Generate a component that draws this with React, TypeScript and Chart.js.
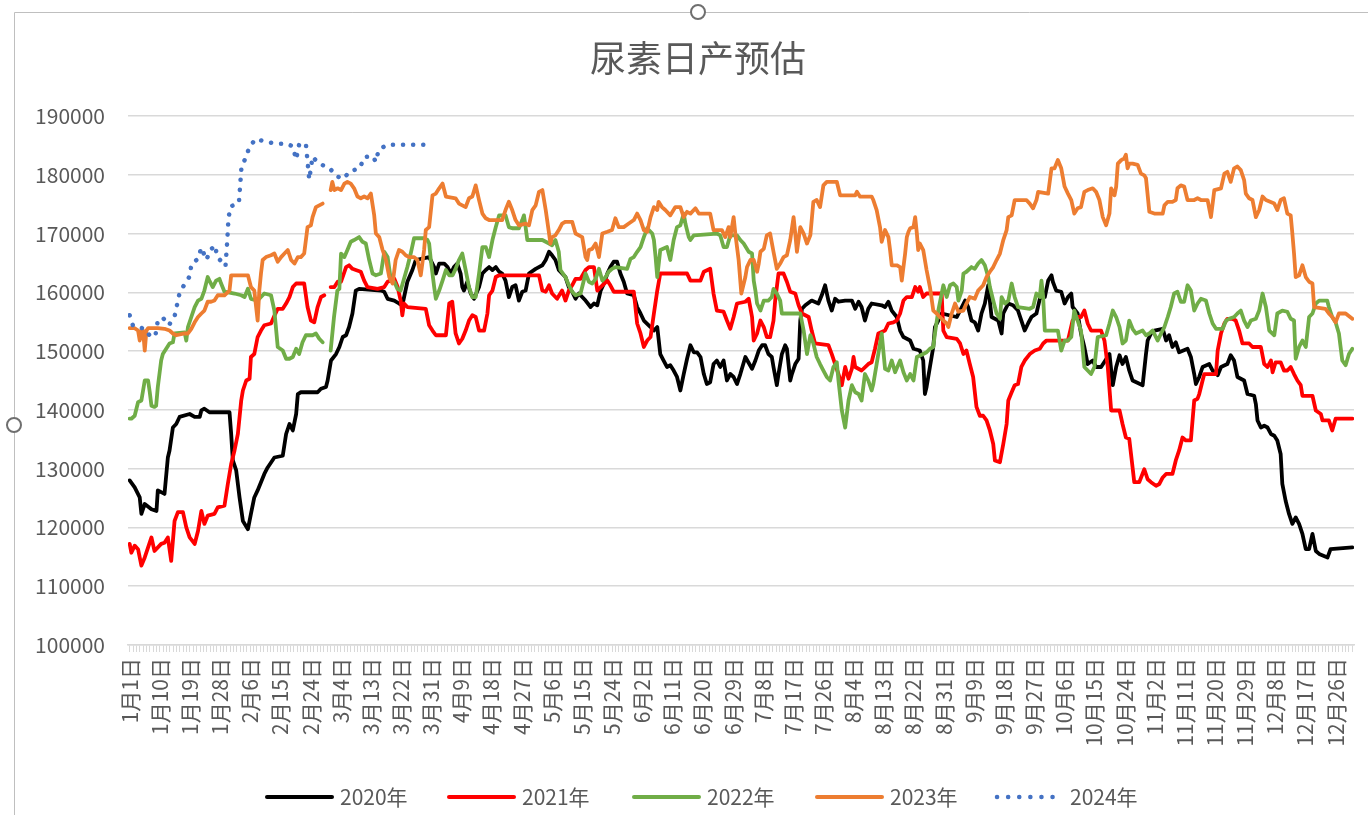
import { useEffect, useRef } from 'react';
import { Chart, registerables } from 'chart.js';

Chart.register(...registerables);

const TITLE = '尿素日产预估';
const FONT = '"Noto Sans CJK SC", "Noto Sans", sans-serif';
const TEXT = '#595959';

// x tick labels, one every 9 days on a leap-year calendar (index 0 = 1月1日)
const tickLabels = [
  '1月1日', '1月10日', '1月19日', '1月28日', '2月6日', '2月15日', '2月24日', '3月4日', '3月13日', '3月22日', '3月31日',
  '4月9日', '4月18日', '4月27日', '5月6日', '5月15日', '5月24日', '6月2日', '6月11日', '6月20日', '6月29日',
  '7月8日', '7月17日', '7月26日', '8月4日', '8月13日', '8月22日', '8月31日', '9月9日', '9月18日', '9月27日',
  '10月6日', '10月15日', '10月24日', '11月2日', '11月11日', '11月20日', '11月29日', '12月8日', '12月17日', '12月26日',
];
const seriesNames = ['2020年', '2021年', '2022年', '2023年', '2024年'];
const seriesColors = ['#000000', '#FF0000', '#70AD47', '#ED7D31', '#4472C4'];

// [day index, daily output]; day 59 = 2月29日 (empty in non-leap years)
const s2020: [number, number | null][] = [
  [0, 128000], [1.5, 126800], [3, 125100], [3.5, 122300], [4.5, 124000], [6.5, 123100], [8, 122800], [8.4, 126300], [10.4, 125700],
  [11.4, 131900], [11.9, 133100], [12.9, 137000], [13.9, 137600], [14.9, 138800], [17.9, 139300], [19.4, 138800], [20.9, 138800],
  [21.4, 139900], [22.3, 140200], [23.8, 139600], [29.8, 139600], [30.3, 135900], [30.8, 131400], [31.8, 129700], [32.8, 125100],
  [33.8, 121100], [35.3, 119700], [36.2, 122300], [37.2, 125100], [38.2, 126300], [40.2, 129100], [41.2, 130200], [43.2, 131900],
  [45.7, 132200], [46.7, 135900], [47.7, 137600], [48.7, 136500], [49.7, 139300], [50.2, 142700], [51.1, 143000], [56.1, 143000],
  [57.1, 143600], [58.6, 143900], [59.1, 145000], [60.1, 148400], [61.6, 149500], [62.6, 150700], [63.6, 152400], [64.6, 152700],
  [65.5, 154100], [66.5, 156400], [67.5, 160300], [68.5, 160600], [75, 160300], [76, 160100], [77, 158900], [79, 158600],
  [80.4, 158100], [81.4, 157800], [82.9, 161800], [84.4, 163800], [85.4, 165500], [89.4, 166000], [90.9, 164300], [91.4, 163200],
  [92.4, 164900], [93.9, 164900], [94.9, 164300], [95.9, 163200], [96.8, 164300], [97.8, 164900], [98.8, 163200], [99.3, 160900],
  [99.8, 160300], [100.8, 161800], [101.8, 159800], [102.8, 158900], [104.3, 160900], [105.3, 163200], [106.3, 163800],
  [107.3, 164300], [108.3, 163800], [109.3, 164300], [110.3, 163500], [111.2, 163200], [112.2, 162000], [113.2, 159200],
  [114.2, 160900], [115.2, 161200], [116.2, 158600], [117.2, 160100], [118.2, 160300], [119.2, 163200], [121.2, 164000],
  [123.2, 164600], [124.2, 165500], [125.2, 166900], [126.1, 166300], [127.1, 165500], [128.1, 163800], [129.1, 163200],
  [130.1, 162600], [131.1, 160900], [132.1, 160100], [133.1, 158900], [134.1, 159800], [135.1, 159200], [136.1, 158600],
  [137.6, 157500], [138.6, 158100], [139.6, 157800], [140.6, 160300], [141.6, 161500], [142.6, 163200], [143.5, 164300],
  [144.5, 165200], [145.5, 165200], [146.5, 163200], [147.5, 161800], [148.5, 159800], [150.5, 159500], [151.5, 157500],
  [152.5, 156400], [153.5, 155200], [155.5, 154100], [156.5, 153500], [157.5, 154100], [158.4, 149500], [159.4, 148400],
  [160.4, 147300], [161.4, 147600], [162.4, 146700], [163.4, 145600], [164.4, 143300], [165.4, 146100], [166.4, 148700],
  [167.4, 151000], [168.4, 149800], [169.4, 149800], [170.4, 149000], [171.4, 146100], [172.3, 144400], [173.3, 144700],
  [174.3, 147800], [175.3, 148400], [176.3, 147300], [177.3, 148400], [178.3, 145000], [179.3, 146100], [180.3, 145600],
  [181.3, 144400], [182.3, 146100], [183.8, 149000], [185.8, 147000], [186.8, 148400], [187.8, 150100], [188.8, 151000],
  [189.7, 151000], [190.7, 149500], [191.7, 149000], [192.2, 147300], [193.2, 144200], [193.7, 146100], [194.7, 149500],
  [195.7, 151000], [196.2, 150400], [197.2, 145000], [197.7, 146100], [198.7, 147800], [199.7, 148700], [200.2, 155200],
  [200.7, 157200], [201.7, 157800], [203.6, 158600], [205.6, 158100], [206.6, 159500], [207.6, 161200], [208.6, 158600],
  [209.6, 156900], [210.6, 158900], [211.6, 158400], [213.6, 158600], [215.6, 158600], [216.6, 157200], [217.6, 158400],
  [218.5, 157500], [219.5, 155200], [220.5, 157200], [221.5, 158100], [224.5, 157800], [225.5, 157500], [226.5, 158400],
  [227.5, 156900], [229, 155800], [230, 153500], [231, 152400], [233, 151800], [234, 150400], [235.9, 150100], [236.9, 148400],
  [237.4, 142700], [237.9, 143900], [238.9, 147300], [239.9, 150700], [240.4, 154100], [241.4, 155200], [242.4, 156400],
  [246.9, 155800], [247.9, 156900], [249.4, 158600], [250.3, 157500], [251.3, 155200], [252.3, 154900], [253.3, 153500],
  [254.3, 156400], [255.3, 158100], [256.3, 161200], [257.3, 155800], [259.3, 155200], [260.3, 153000], [260.8, 156400],
  [262.3, 158100], [263.7, 157800], [265.2, 156900], [266.2, 155200], [267.2, 153500], [268.2, 154700], [269.2, 155800],
  [270.7, 156400], [271.7, 158900], [273.2, 159200], [274.2, 162000], [275.2, 162900], [275.6, 161800], [276.6, 160300],
  [278.1, 160100], [279.1, 158100], [280.1, 159200], [281.1, 159800], [281.5, 157500], [283, 156400], [284, 153000],
  [285, 150700], [286, 147800], [287.5, 148400], [288.5, 147300], [290, 147300], [292.5, 149500], [293.5, 144200],
  [294.5, 147300], [295.5, 149300], [296.4, 147800], [297.4, 149000], [298.4, 146700], [299.4, 145000], [302.4, 144200],
  [303.4, 149500], [303.9, 151800], [304.9, 153000], [305.9, 153500], [308.4, 153800], [309.4, 151800], [310.3, 152700],
  [311.3, 150700], [312.3, 151500], [313.3, 149800], [315.8, 150400], [316.8, 149000], [317.8, 146100], [318.3, 144400],
  [319.3, 145600], [320.3, 147300], [322.3, 147800], [323.3, 146700], [324.8, 145900], [325.8, 147300], [327.7, 147800],
  [328.7, 149300], [329.7, 148400], [330.7, 145600], [332.7, 145000], [333.7, 142700], [335.7, 142400], [336.2, 141000],
  [336.7, 138200], [337.7, 137000], [338.7, 137300], [339.7, 137000], [340.7, 135900], [341.7, 135600], [342.6, 134800],
  [343.6, 132500], [344.1, 127400], [345.1, 124500], [346.1, 122300], [347.1, 120600], [348.1, 121700], [349.1, 120600],
  [350.1, 118900], [351.1, 116300], [352.1, 116300], [353.1, 118900], [354.1, 116000], [355.1, 115500], [357.6, 114900],
  [358.5, 116300], [365, 116600],
];

const s2021: [number, number | null][] = [
  [0, 117200], [0.5, 115700], [1.5, 116900], [2.5, 116300], [3.5, 113500], [4.5, 114900], [5.5, 116600], [6.5, 118300],
  [7.4, 116000], [9.4, 117200], [10.4, 117400], [11.4, 118300], [12.4, 114300], [13.4, 121100], [14.4, 122600], [15.9, 122600],
  [16.9, 120000], [17.9, 118300], [19.4, 117200], [20.4, 119400], [21.4, 122800], [22.3, 120600], [23.3, 122000], [25.3, 122300],
  [26.3, 123400], [28.3, 123700], [29.3, 127400], [30.3, 130800], [31.3, 133100], [32.3, 135900], [33.3, 141600], [33.8, 143300],
  [34.8, 145000], [35.8, 145300], [36.2, 149000], [37.2, 149500], [38.2, 152400], [39.2, 153500], [40.2, 154400], [42.2, 154700],
  [43.2, 156000], [44.2, 157200], [45.7, 157200], [46.7, 158100], [47.7, 159200], [48.7, 160900], [49.7, 161500], [52.1, 161500],
  [53.1, 157500], [54.1, 155200], [55.1, 154900], [56.1, 157500], [57.1, 159200], [58.1, 159500], [59, null], [60, 160900],
  [61.1, 160900], [62.1, 161800], [63.1, 161800], [64.6, 164300], [65.5, 164600], [66.5, 164000], [67.5, 163800], [69, 163500],
  [70, 162000], [71, 160900], [74, 160600], [76, 160900], [77, 161800], [79, 162300], [80, 160900], [80.9, 158600], [81.4, 156100],
  [81.9, 158100], [82.9, 157500], [88.4, 157200], [89.4, 154400], [90.4, 153500], [91.4, 152700], [94.4, 152700], [95.4, 158100],
  [96.3, 158400], [97.3, 153000], [98.3, 151300], [99.3, 152100], [100.3, 153500], [101.3, 155200], [102.3, 156100],
  [103.3, 155800], [104.3, 153500], [105.8, 153500], [106.8, 156400], [107.3, 159500], [108.3, 160300], [109.3, 162600],
  [110.3, 162900], [122.2, 162900], [123.2, 160300], [124.2, 160100], [125.2, 161200], [126.1, 159800], [127.6, 158900],
  [129.1, 160300], [130.1, 158600], [131.1, 160300], [132.1, 161200], [133.1, 162300], [134.6, 162300], [136.1, 163800],
  [137.1, 164300], [138.6, 164300], [139.6, 160300], [140.6, 160900], [142.6, 162000], [143.5, 161200], [144.5, 160100],
  [150.5, 160100], [151.5, 154700], [152.5, 153000], [153.5, 150700], [154.5, 151800], [155.5, 152400], [156.5, 156400],
  [157.5, 160300], [158.4, 163200], [166.4, 163200], [167.4, 162000], [170.4, 162000], [171.4, 163500], [173.3, 164000],
  [174.3, 159800], [175.3, 156900], [177.3, 156700], [178.3, 155200], [179.3, 153800], [180.3, 155800], [181.3, 158100],
  [183.8, 158400], [184.8, 158900], [185.8, 155800], [186.3, 151800], [187.3, 153000], [188.3, 155200], [189.3, 154100],
  [190.2, 152400], [191.2, 152400], [192.2, 155200], [192.7, 158600], [193.7, 163200], [195.2, 163200], [196.2, 161800],
  [197.2, 160100], [198.7, 159800], [199.7, 157800], [200.7, 156400], [202.7, 155800], [203.6, 153500], [204.6, 151300],
  [208.6, 151000], [209.6, 149500], [210.6, 147800], [211.6, 146100], [212.6, 144200], [213.6, 147300], [214.6, 145300],
  [215.6, 147000], [216.1, 149000], [216.6, 147300], [218.5, 146700], [220.5, 147800], [221.5, 148100], [222.5, 150400],
  [223.5, 153000], [225.5, 153500], [226.5, 154700], [228, 154900], [229, 155200], [230, 156400], [231, 158600], [232, 159200],
  [233.5, 159200], [234.5, 160900], [235.4, 160100], [235.9, 160900], [236.9, 159200], [237.9, 159800], [242.4, 159800],
  [242.9, 153500], [243.9, 152400], [246.9, 152100], [247.9, 151300], [248.9, 149500], [249.8, 150100], [250.8, 147800],
  [251.8, 145600], [252.8, 140500], [253.8, 139000], [254.8, 139000], [255.8, 138200], [256.8, 136500], [257.8, 134200],
  [258.3, 131400], [259.8, 131100], [260.8, 134200], [261.8, 137600], [262.3, 141600], [263.3, 143000], [264.2, 144200],
  [265.2, 144400], [266.2, 147300], [267.2, 148400], [268.7, 149500], [270.2, 150100], [271.7, 150400], [272.7, 151300],
  [273.7, 151800], [280.1, 151800], [280.6, 153000], [281.5, 155200], [282.5, 155800], [284, 155800], [285, 156900],
  [286, 154700], [287, 153500], [290, 153500], [291, 151800], [292, 147300], [293, 139900], [295.5, 139900], [296.4, 137600],
  [297.4, 135300], [298.4, 135100], [299.4, 130200], [299.9, 127700], [301.4, 127700], [302.9, 129900], [303.9, 128200],
  [304.9, 127700], [306.4, 127100], [307.4, 127400], [308.4, 128500], [309.4, 129100], [311.3, 129100], [312.3, 131400],
  [313.3, 133100], [314.3, 135300], [315.3, 134800], [316.8, 134800], [317.8, 141600], [318.8, 141900], [319.3, 142700],
  [320.3, 145000], [320.8, 146100], [324.3, 146100], [324.8, 150100], [325.8, 153000], [326.8, 154700], [327.7, 155500],
  [329.2, 155500], [330.2, 155200], [331.2, 153500], [332.2, 151300], [334.2, 151300], [335.2, 150700], [337.7, 150700],
  [338.7, 147800], [339.7, 147300], [340.7, 148400], [341.2, 146400], [342.1, 148100], [343.6, 148100], [344.6, 146700],
  [345.6, 146700], [346.6, 147300], [347.6, 146100], [348.6, 145000], [349.6, 144200], [350.1, 142400], [353.1, 142400],
  [354.1, 139900], [355.6, 139300], [356.1, 138200], [358, 138200], [359, 136500], [360, 138500], [365, 138500],
];

const s2022: [number, number | null][] = [
  [0, 138500], [0.5, 138500], [1.5, 139000], [2.5, 141300], [3.5, 141600], [4.5, 145000], [5.5, 145000], [6, 143000],
  [6.5, 140700], [7.4, 140500], [7.9, 140700], [8.4, 143900], [9.4, 148400], [9.9, 149500], [10.9, 150400], [11.9, 151300],
  [12.9, 151500], [13.4, 153000], [16.4, 153200], [16.9, 151800], [17.4, 154100], [18.4, 155800], [19.4, 157500], [20.4, 158600],
  [21.4, 158900], [22.3, 160300], [23.3, 162600], [23.8, 162000], [24.8, 160900], [25.8, 162000], [26.8, 162300], [27.3, 161500],
  [28.3, 160100], [31.3, 159800], [33.3, 159500], [34.3, 159200], [35.3, 160600], [36.2, 158900], [38.2, 158600], [39.2, 159200],
  [40.2, 159800], [42.2, 159500], [43.2, 156900], [44.2, 150700], [45.7, 150100], [46.7, 148700], [47.7, 148700], [48.7, 149000],
  [49.7, 150400], [50.6, 149500], [51.6, 151500], [52.6, 152700], [54.6, 152700], [55.6, 153000], [56.6, 152100], [57.6, 151500],
  [59, null], [60, 150100], [61, 155800], [62, 160300], [62.6, 160600], [63.1, 166600], [64.1, 166000], [65, 167200],
  [66, 168600], [67, 168900], [68.5, 169400], [69.5, 168600], [70.5, 168300], [71.5, 165500], [72.5, 163200], [73.5, 162900],
  [75, 163200], [76, 166900], [77, 166000], [78, 162000], [79, 161800], [79.9, 160600], [80.9, 160300], [81.9, 162300],
  [82.9, 164300], [83.9, 166600], [84.9, 169200], [87.9, 169200], [88.9, 168900], [89.4, 168300], [89.9, 165500], [90.9, 160900],
  [91.4, 158900], [92.4, 160300], [93.4, 162000], [94.4, 163800], [95.4, 162900], [96.4, 162900], [97.3, 164000], [98.3, 165500],
  [99.3, 166600], [100.3, 163800], [101.3, 160900], [102.3, 159200], [103.3, 159200], [104.3, 163200], [105.3, 167700],
  [106.3, 167700], [107.3, 166000], [108.3, 168900], [109.3, 171100], [110.3, 173100], [112.2, 173100], [113.2, 171100],
  [114.2, 170900], [116.2, 170900], [117.2, 172300], [117.7, 173100], [118.2, 171100], [118.7, 168900], [123.2, 168900],
  [125.2, 168300], [126.1, 168000], [127.1, 168900], [128.1, 166900], [128.6, 163800], [130.1, 162600], [131.1, 161200],
  [132.1, 160100], [133.1, 159500], [134.6, 159800], [136.1, 163200], [137.1, 161800], [138.1, 161500], [139.1, 162300],
  [140.1, 164000], [141.1, 162000], [142.1, 162600], [143, 163500], [144, 164000], [145, 164300], [148.5, 164000],
  [149.5, 165700], [150.5, 166000], [151.5, 166900], [152.5, 167700], [153.5, 169400], [154.5, 170900], [156, 170000],
  [156.5, 168900], [157, 166000], [157.5, 162600], [158.4, 167200], [160.4, 167700], [161.4, 165500], [162.4, 168900],
  [163.4, 171100], [164.4, 171400], [165.4, 173400], [165.9, 171700], [166.9, 169400], [167.4, 168900], [168.4, 169700],
  [175.3, 170000], [176.3, 169700], [177.3, 167700], [178.3, 167700], [179.3, 169700], [181.3, 169700], [182.3, 168900],
  [183.3, 168300], [184.8, 166900], [185.8, 166600], [186.3, 162000], [186.8, 160300], [187.3, 158100], [188.3, 156900],
  [189.3, 158600], [190.7, 158600], [191.7, 159200], [192.2, 160600], [193.2, 159800], [194.2, 158600], [194.7, 156400],
  [200.2, 156400], [201.2, 153500], [202.2, 149500], [203.2, 152700], [204.1, 151300], [205.1, 149000], [206.1, 147800],
  [207.1, 146700], [208.1, 145600], [209.1, 145000], [210.1, 147300], [211.1, 148100], [211.6, 145000], [212.6, 139900],
  [213.6, 137000], [214.6, 141600], [215.6, 144200], [216.6, 143000], [217.6, 142700], [218.5, 141600], [219.5, 146100],
  [220.5, 145000], [221.5, 143300], [222, 144400], [223, 147800], [224.5, 153000], [225.5, 147000], [226.5, 146700],
  [227.5, 148400], [228.5, 146400], [230, 148400], [231, 146400], [232, 145000], [233, 146100], [234, 145000], [235, 149000],
  [236.9, 149500], [237.9, 149800], [238.9, 150400], [239.9, 150700], [240.4, 153000], [241.4, 156900], [242.4, 159800],
  [242.9, 161200], [243.9, 159200], [244.9, 161200], [245.9, 161500], [246.9, 160900], [247.4, 158600], [248.4, 160300],
  [248.9, 163200], [249.8, 163500], [251.3, 164300], [252.3, 164000], [253.3, 164900], [254.3, 165500], [255.3, 164600],
  [256.3, 162600], [256.8, 160900], [257.8, 158600], [258.8, 156400], [259.8, 155500], [260.3, 159200], [261.3, 158100],
  [262.3, 158600], [263.3, 161500], [264.2, 159200], [265.2, 157500], [268.7, 157200], [269.7, 157500], [270.7, 159800],
  [271.7, 159200], [272.2, 162000], [272.7, 159200], [273.2, 153500], [277.1, 153500], [278.1, 150100], [279.1, 151800],
  [280.1, 151800], [281.1, 152400], [282, 156900], [283, 155200], [284, 153500], [285, 147300], [287, 146100], [288, 147300],
  [289, 152400], [291.5, 152700], [292.5, 154700], [293.5, 156900], [294.5, 155800], [295.5, 154100], [296.4, 151300],
  [297.4, 151800], [298.4, 155200], [299.4, 153800], [300.4, 153000], [302.4, 153500], [303.4, 152700], [304.4, 153000],
  [305.4, 153500], [306.9, 151800], [307.9, 153000], [308.9, 154100], [309.9, 155800], [310.8, 157500], [311.8, 159800],
  [312.8, 160100], [313.8, 158400], [314.8, 158400], [315.8, 161200], [316.8, 160300], [317.8, 156900], [318.8, 158100],
  [319.8, 158900], [321.3, 158600], [322.3, 156400], [323.3, 154700], [324.3, 153800], [326.3, 153800], [327.3, 155200],
  [328.2, 155500], [329.7, 155800], [330.7, 156400], [331.7, 156900], [332.7, 155200], [333.7, 154100], [334.7, 155200],
  [336.2, 155500], [337.2, 156900], [338.2, 159800], [339.2, 157500], [340.2, 153500], [341.7, 152700], [342.6, 156400],
  [344.1, 156900], [345.6, 156700], [346.6, 155500], [347.6, 155200], [348.1, 148700], [349.1, 150700], [350.1, 151800],
  [351.1, 150700], [352.1, 155800], [353.1, 156400], [354.1, 158100], [355.1, 158600], [357.5, 158600], [358, 157500],
  [359, 155800], [360, 154900], [361, 153000], [362, 148400], [363, 147600], [364, 149500], [365, 150400],
];

const s2023: [number, number | null][] = [
  [0, 153900], [1.5, 153900], [2.5, 153500], [3, 151800], [3.5, 153500], [4, 153500], [4.5, 150100], [5, 153500], [5.5, 153900],
  [8.4, 153900], [10.4, 153800], [11.9, 153500], [12.9, 153000], [13.9, 152700], [16.4, 153000], [17.4, 153000], [18.4, 153800],
  [19.4, 154900], [20.4, 155800], [21.4, 156400], [22.3, 156900], [23.3, 158400], [24.3, 158400], [25.3, 158600], [26.3, 159500],
  [28.3, 159500], [29.8, 160300], [30.3, 162900], [35.3, 162900], [36.2, 160900], [37.2, 160300], [38.2, 155200], [38.7, 160300],
  [39.2, 163200], [39.7, 165500], [40.7, 166000], [42.2, 166300], [43.2, 166600], [44.2, 165200], [45.2, 166000], [46.2, 166600],
  [47.2, 167200], [48.2, 165500], [49.2, 164900], [50.2, 166000], [51.1, 166000], [52.1, 166600], [53.1, 171100], [54.1, 171400],
  [54.6, 172800], [55.6, 174500], [57.6, 175100], [59, null], [60, 177400], [60.5, 178800], [61.1, 177400], [62.1, 177700],
  [63.1, 177400], [64.1, 178500], [65, 178800], [66, 178500], [67, 177700], [68, 176300], [69, 176000], [70, 176300],
  [71, 176000], [72, 176800], [73, 173100], [73.5, 170000], [74.5, 169400], [75.5, 167200], [76.5, 165500], [77.5, 162600],
  [78.5, 161500], [79.4, 165500], [80.4, 167200], [81.4, 166900], [82.4, 166300], [83.4, 166000], [84.9, 166000],
  [85.9, 165500], [86.9, 162900], [87.9, 167200], [88.4, 170600], [89.4, 171100], [90.4, 176500], [91.4, 176800],
  [92.4, 177700], [93.4, 178500], [94.4, 176300], [97.3, 176000], [98.3, 175100], [100.3, 174500], [101.3, 176000],
  [102.3, 176300], [103.3, 178200], [104.3, 175700], [105.3, 173400], [106.3, 172600], [107.3, 172300], [111.2, 172300],
  [112.2, 174000], [113.2, 175400], [114.2, 174000], [115.2, 172300], [116.2, 171400], [118.2, 171700], [119.2, 171400],
  [120.2, 174000], [121.2, 174800], [122.2, 177100], [123.2, 177400], [124.2, 174000], [125.2, 170000], [125.6, 168300],
  [126.1, 169400], [127.1, 169700], [128.1, 170600], [129.1, 171700], [130.1, 172000], [132.1, 172000], [133.1, 170000],
  [135.1, 169400], [136.1, 166000], [136.6, 165500], [137.1, 167200], [138.1, 167400], [139.1, 168300], [140.1, 166000],
  [141.1, 170000], [142.6, 170300], [144, 170600], [145, 172600], [146, 171100], [147.5, 171100], [149, 171700], [150.5, 172300],
  [151.5, 173400], [152.5, 172300], [153.5, 170600], [154.5, 170300], [155.5, 172800], [156.5, 174500], [157.5, 174000],
  [157.9, 175400], [158.9, 174500], [159.9, 174000], [161.4, 173100], [162.9, 174500], [164.4, 174500], [165.4, 172800],
  [166.4, 173700], [167.4, 173400], [168.9, 174300], [169.9, 173400], [173.3, 173400], [174.3, 170600], [176.8, 170600],
  [177.8, 169400], [178.8, 171100], [179.3, 169400], [180.3, 172800], [180.8, 170000], [181.8, 165500], [182.6, 159800],
  [183.8, 162600], [184.3, 164300], [185.3, 165500], [186.3, 165500], [187.3, 163500], [187.8, 164900], [188.3, 166900],
  [189.3, 167400], [190.2, 169700], [191.2, 170000], [192.2, 166900], [193.2, 164000], [194.2, 164900], [195.2, 166000],
  [196.2, 166300], [197.2, 168900], [198.2, 172800], [198.7, 170000], [199.2, 166900], [200.2, 171100], [201.2, 170000],
  [202.2, 168300], [203.2, 169700], [204.1, 175400], [205.1, 175700], [206.1, 174500], [207.1, 178200], [208.1, 178800],
  [211.1, 178800], [212.1, 176500], [216.6, 176500], [217.1, 177100], [218, 176300], [221.5, 176300], [222, 175700],
  [223, 174000], [224, 171100], [224.5, 168600], [225.5, 170600], [226.5, 169400], [227, 167200], [227.5, 164600], [229, 164600],
  [230, 164300], [230.5, 162000], [231.5, 166600], [232, 169400], [232.5, 170300], [233, 170900], [234, 171100], [234.5, 172800],
  [235, 170000], [235.4, 167200], [235.9, 168300], [236.9, 167200], [237.9, 163800], [238.9, 160900], [239.9, 156900],
  [240.9, 156400], [241.9, 155800], [242.9, 155200], [243.9, 154700], [244.4, 154100], [245.4, 156400], [246.4, 158100],
  [247.4, 156700], [248.9, 156900], [249.8, 158100], [250.8, 159200], [252.3, 158900], [253.3, 160300], [254.8, 161200],
  [255.8, 162600], [256.8, 163500], [257.8, 164300], [258.8, 165500], [259.8, 166600], [260.8, 168900], [261.8, 170600],
  [262.3, 172800], [263.3, 173100], [264.2, 175700], [267.7, 175700], [268.7, 175100], [269.7, 174300], [270.7, 175700],
  [271.2, 177100], [274.2, 176800], [275.2, 181100], [276.1, 181100], [277.1, 182500], [278.1, 181100], [279.1, 178000],
  [280.1, 176800], [281.1, 175700], [282, 173400], [283, 174300], [284, 174500], [285, 177100], [286, 177400], [287.5, 177700],
  [288.5, 177100], [289.5, 175700], [290.5, 172800], [291.5, 171400], [292.5, 173400], [293, 177700], [294, 176500],
  [294.5, 178000], [295, 181900], [296, 182500], [296.9, 182800], [297.4, 183400], [297.9, 181100], [298.4, 181900],
  [299.4, 181900], [300.9, 181700], [301.9, 180200], [302.9, 179900], [303.4, 179400], [304.4, 173700], [305.9, 173400],
  [308.4, 173400], [308.9, 174800], [309.9, 175400], [311.3, 175400], [312.3, 175700], [312.8, 177700], [313.8, 178200],
  [314.8, 178000], [315.8, 175700], [317.8, 175700], [318.8, 176000], [319.8, 175700], [321.8, 175700], [322.8, 172800],
  [323.8, 177400], [325.8, 177700], [326.8, 180200], [327.7, 180500], [328.7, 178800], [329.7, 181100], [330.7, 181400],
  [331.7, 180800], [332.7, 179100], [333.2, 176800], [334.2, 176000], [335.2, 175700], [336.2, 172800], [337.2, 174000],
  [338.2, 176300], [339.2, 175700], [341.7, 175100], [342.6, 174000], [343.6, 175700], [344.6, 176000], [345.6, 173400],
  [346.6, 173100], [347.1, 170000], [347.6, 166600], [348.1, 162600], [349.1, 162900], [350.1, 164600], [351.1, 162600],
  [352.1, 161800], [353.1, 161500], [353.6, 157500], [357, 157200], [358, 156400], [359, 155800], [360, 154900], [361, 156400],
  [363, 156400], [365, 155500],
];

const s2024: [number, number | null][] = [
  [0, 156100], [1, 154300], [4.5, 153800], [6.3, 152400], [7.7, 152700], [8.4, 155200], [9.9, 155700], [11.7, 154400],
  [13.4, 155900], [14.9, 159900], [16.4, 161400], [18, 162800], [18.4, 164800], [20.4, 165700], [21.4, 167600], [22.9, 165500],
  [24.1, 167200], [25.5, 168000], [26.1, 166100], [28.6, 164400], [29.1, 168500], [29.5, 172600], [30.1, 174600], [32.6, 175200],
  [33.4, 181500], [34.7, 182900], [35.7, 184700], [37.6, 186100], [40.2, 185700], [43.4, 185300], [47, 185300], [48.7, 184800],
  [49.7, 182600], [50.6, 185200], [52.6, 185300], [53.6, 179200], [54.6, 183100], [56.4, 181900], [59.6, 181200], [61.6, 179800],
  [63.8, 179300], [65.7, 180600], [68.7, 181100], [70, 183000], [72.5, 183200], [73.5, 182200], [74.3, 184200], [76.8, 185100],
  [88, 185100],
];

const allSeries = [s2020, s2021, s2022, s2023, s2024];

const decorations = {
  id: 'decorations',
  beforeDraw(chart: any) {
    const ctx = chart.ctx;
    ctx.save();
    ctx.fillStyle = '#ffffff';
    ctx.fillRect(0, 0, chart.width, chart.height);
    ctx.strokeStyle = '#bfbfbf';
    ctx.lineWidth = 1;
    ctx.beginPath();
    ctx.moveTo(14.5, 12.5);
    ctx.lineTo(chart.width, 12.5);
    ctx.moveTo(14.5, 12.5);
    ctx.lineTo(14.5, chart.height);
    ctx.stroke();
    ctx.restore();
  },
  afterDraw(chart: any) {
    const ctx = chart.ctx;
    ctx.save();
    // selection handles of the original screenshot
    ctx.lineWidth = 2;
    ctx.strokeStyle = '#6f6f6f';
    ctx.fillStyle = '#ffffff';
    for (const [hx, hy] of [[698, 12], [14, 425]]) {
      ctx.beginPath();
      ctx.arc(hx, hy, 7, 0, Math.PI * 2);
      ctx.fill();
      ctx.stroke();
    }
    // title
    ctx.fillStyle = TEXT;
    ctx.font = `36px ${FONT}`;
    ctx.textAlign = 'center';
    ctx.textBaseline = 'middle';
    ctx.fillText(TITLE, 698, 58);
    // legend
    const starts = [265, 447, 632, 815, 995];
    const ly = 797;
    ctx.font = `21px ${FONT}`;
    ctx.textAlign = 'left';
    seriesNames.forEach((name, i) => {
      ctx.beginPath();
      ctx.strokeStyle = seriesColors[i];
      ctx.lineCap = 'round';
      if (i === 4) {
        ctx.lineWidth = 4.5;
        ctx.setLineDash([0.1, 11]);
      } else {
        ctx.lineWidth = 4;
        ctx.setLineDash([]);
      }
      ctx.moveTo(starts[i] + 2, ly);
      ctx.lineTo(starts[i] + 67, ly);
      ctx.stroke();
      ctx.setLineDash([]);
      ctx.fillStyle = TEXT;
      ctx.fillText(name, starts[i] + 75, ly);
    });
    ctx.restore();
  },
};

export default function App() {
  const ref = useRef<HTMLCanvasElement>(null);
  useEffect(() => {
    if (!ref.current) return;
    const chart = new Chart(ref.current, {
      type: 'line',
      data: {
        datasets: allSeries.map((s, i) => ({
          label: seriesNames[i],
          data: s.map(([x, y]) => ({ x, y })),
          borderColor: seriesColors[i],
          backgroundColor: seriesColors[i],
          borderWidth: i === 4 ? 4.5 : 3.8,
          borderDash: i === 4 ? [0.1, 10] : [],
          borderCapStyle: 'round',
          borderJoinStyle: 'round',
          pointRadius: 0,
          tension: 0,
          fill: false,
          spanGaps: false,
          order: 5 - i,
        })),
      } as any,
      plugins: [decorations],
      options: {
        animation: false,
        responsive: false,
        maintainAspectRatio: false,
        layout: { padding: { top: 116, right: 14, bottom: 0, left: 0 } },
        plugins: { legend: { display: false }, title: { display: false }, tooltip: { enabled: false } },
        scales: {
          x: {
            type: 'linear',
            min: -0.5,
            max: 365.5,
            afterBuildTicks: (scale: any) => {
              scale.ticks = Array.from({ length: 366 }, (_, i) => ({ value: i }));
            },
            afterFit: (scale: any) => {
              scale.height = 170;
              scale.paddingLeft = 0;
              scale.paddingRight = 0;
            },
            ticks: {
              autoSkip: false,
              maxRotation: 90,
              minRotation: 90,
              padding: 6,
              color: TEXT,
              font: { size: 21, family: FONT },
              callback: (v: any) => (Number(v) % 9 === 0 ? tickLabels[Number(v) / 9] : ''),
            },
            grid: { drawOnChartArea: false, drawTicks: true, tickLength: 7, color: '#d9d9d9', lineWidth: 1 },
            border: { color: '#d9d9d9', width: 1.5 },
          },
          y: {
            min: 100000,
            max: 190000,
            afterFit: (scale: any) => {
              scale.width = 128;
              scale.paddingTop = 0;
              scale.paddingBottom = 0;
            },
            ticks: {
              stepSize: 10000,
              padding: 23,
              color: TEXT,
              font: { size: 21, family: FONT },
              callback: (v: any) => String(v),
            },
            grid: { color: '#d9d9d9', lineWidth: 1.5, drawTicks: false },
            border: { display: false },
          },
        },
      } as any,
    });
    return () => chart.destroy();
  }, []);
  return (
    <div style={{ position: 'absolute', left: 0, top: 0, width: 1368, height: 815, background: '#fff' }}>
      <canvas ref={ref} width={1368} height={815} />
    </div>
  );
}
